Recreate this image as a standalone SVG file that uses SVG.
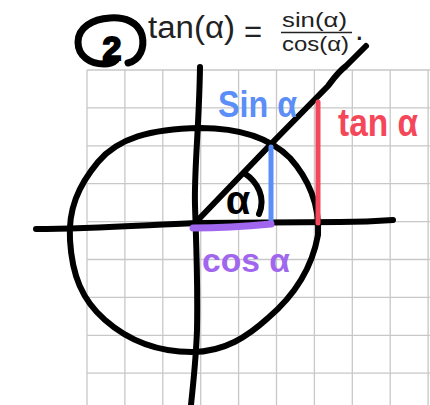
<svg xmlns="http://www.w3.org/2000/svg" width="430" height="405" viewBox="0 0 430 405">
<style>
.grid{stroke:#c8c8c8;stroke-width:1.3;fill:none}
.ink{stroke:#000;stroke-width:6;fill:none;stroke-linecap:round;stroke-linejoin:round}
.col{fill:none;stroke-linecap:round}
.tex{font-family:"Liberation Sans","DejaVu Sans",sans-serif;fill:#222}
.hand{font-family:"Liberation Sans","DejaVu Sans",sans-serif;font-weight:bold}
</style>
<rect width="430" height="405" fill="#fff"/>
<g id="grid">
<path class="grid" d="M87,70V405M124.9,70V405M162.8,70V405M200.7,70V405M238.6,70V405M276.5,70V405M314.4,70V405M352.3,70V405M390.2,70V405M428.1,70V405"/>
<path class="grid" d="M87,70H430M87,107.9H430M87,145.8H430M87,183.7H430M87,221.6H430M87,259.5H430M87,297.4H430M87,335.3H430M87,373.2H430"/>
</g>
<g id="formula">
<path class="ink" style="stroke-width:7" d="M128,63 C140,60 145,48 142,35 C138,22 125,17 110,18 C92,19 78,28 78,42 C78,56 90,64 104,64 C110,64 114,62 116,60"/>
<text class="hand" x="112" y="60" font-size="34" text-anchor="middle" fill="#000" stroke="#000" stroke-width="2">2</text>
<text class="tex" x="148" y="38" font-size="31" textLength="87" lengthAdjust="spacingAndGlyphs">tan(α)</text>
<text class="tex" x="244" y="42" font-size="31">=</text>
<text class="tex" x="282" y="27" font-size="21" textLength="65" lengthAdjust="spacingAndGlyphs">sin(α)</text>
<path d="M281,32.5H352" stroke="#222" stroke-width="1.3"/>
<text class="tex" x="282" y="51" font-size="21" textLength="67" lengthAdjust="spacingAndGlyphs">cos(α)</text>
<text class="tex" x="355" y="40" font-size="31">.</text>
</g>
<g id="unit-circle">
<path class="ink" d="M200,128 C150,129 118,138 98,162 C78,186 68,210 70,240 C72,275 82,300 105,320 C130,342 160,352 192,352 C225,352 248,336 268,318 C295,295 312,268 318,235 C320,205 308,178 290,158 C268,136 236,128 200,128 Z"/>
</g>
<g id="axes">
<path class="ink" d="M36,229 C90,229 130,226 196,223 L340,222 C360,222 380,221 393,220"/>
<path class="ink" d="M200,67 C199,130 194,170 195,205 C196,240 198,280 197,330 C196,360 193,385 191,405"/>
</g>
<g id="connectors">
<path class="ink" d="M197,221 L272,143 L328,86 C334,78 338,72 346,66 L366,46"/>
<path class="ink" d="M244,173 C258,182 266,198 259,214"/>
<path class="col" d="M271,147 L271,221" stroke="#5b8ef7" stroke-width="5"/>
<path class="col" d="M318,102 L318,223" stroke="#f5475a" stroke-width="5"/>
<path class="col" d="M193,228 C220,228 250,226 271,224" stroke="#a066ee" stroke-width="7"/>
</g>
<g id="labels">
<text class="hand" x="238" y="214" font-size="40" text-anchor="middle" fill="#000">α</text>
<text class="hand" x="218" y="117" font-size="36" textLength="79" lengthAdjust="spacingAndGlyphs" fill="#5b8ef7">Sin α</text>
<text class="hand" x="338" y="136" font-size="38" textLength="80" lengthAdjust="spacingAndGlyphs" fill="#f5475a">tan α</text>
<text class="hand" x="202" y="272" font-size="34" textLength="88" lengthAdjust="spacingAndGlyphs" fill="#a066ee">cos α</text>
</g>
</svg>
